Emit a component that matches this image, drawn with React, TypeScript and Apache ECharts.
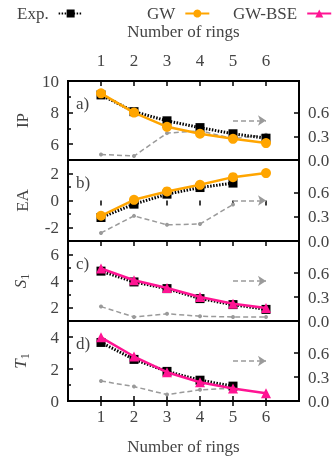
import React, { useEffect, useRef } from "react";
import * as echarts from "echarts";

const rings = [1, 2, 3, 4, 5, 6];
const xTickValues = [1, 2, 3, 4, 5, 6];

// a) IP
const ipExp = [9.12, 8.06, 7.48, 7.05, 6.66, 6.38];
const ipGW = [9.22, 8.0, 7.1, 6.66, 6.34, 6.07];
const ipErr = [0.07, 0.05, 0.34, 0.37, 0.27, 0.32];
// b) EA
const eaExp = [-1.26, -0.27, 0.47, 0.96, 1.29];
const eaGW = [-1.13, 0.05, 0.67, 1.16, 1.73, 2.03];
const eaErr = [0.1, 0.31, 0.2, 0.21, 0.45];
// c) S1
const s1Exp = [4.74, 3.93, 3.43, 2.68, 2.23, 1.87];
const s1BSE = [4.94, 4.06, 3.48, 2.8, 2.3, 1.97];
const s1Err = [0.18, 0.05, 0.09, 0.06, 0.05, 0.05];
// d) T1
const t1Exp = [3.66, 2.6, 1.85, 1.3, 0.93];
const t1BSE = [3.98, 2.78, 1.8, 1.17, 0.78, 0.49];
const t1Err = [0.25, 0.18, 0.08, 0.14, 0.16];

const arrowLevel = 0.5;
const rightTicks = [0, 0.3, 0.6];

const panelLabels = ["a)", "b)", "c)", "d)"];
const leftRanges = [
  [5, 10],
  [-3, 3],
  [1, 7],
  [0, 5],
];
const leftMajor = [
  [6, 8, 10],
  [-2, 0, 2],
  [2, 4, 6],
  [0, 2, 4],
];
const leftMinor = [
  [7, 9],
  [-1, 1],
  [3, 5],
  [1, 3],
];

const FONT = "'Liberation Serif', 'Times New Roman', serif";
const FS = 17;
const TXT = "#444";
const GW_COLOR = "#FFA500";
const BSE_COLOR = "#FF1493";
const ERR_COLOR = "#9a9a9a";

const pairs = (vals: number[]) => vals.map((v, i) => [rings[i], v]);

export default function App() {
  const ref = useRef<HTMLDivElement>(null);
  useEffect(() => {
    if (!ref.current) return;
    const chart = echarts.init(ref.current, null, { renderer: "svg" });

    const tops = [81, 160, 241, 321];
    const heights = [79, 81, 80, 80];
    const gridLeft = 68;
    const gridWidth = 231;

    const grids = tops.map((t, i) => ({
      left: gridLeft,
      width: gridWidth,
      top: t,
      height: heights[i],
      show: true,
      borderColor: "#000",
      borderWidth: 2,
      backgroundColor: "transparent",
    }));

    const textStyle = { fontFamily: FONT, fontSize: FS, color: TXT };

    const xAxes: any[] = [];
    tops.forEach((_, i) => {
      xAxes.push({
        gridIndex: i,
        type: "value",
        position: "bottom",
        min: 0,
        max: 7,
        interval: 1,
        axisLine: { show: false },
        splitLine: { show: false },
        axisTick: {
          show: i === 3,
          inside: true,
          length: 5,
          customValues: xTickValues,
          lineStyle: { color: "#000", width: 1.5 },
        },
        axisLabel: {
          show: i === 3,
          customValues: xTickValues,
          margin: 7,
          ...textStyle,
        },
        name: i === 3 ? "Number of rings" : "",
        nameLocation: "middle",
        nameGap: 37,
        nameTextStyle: textStyle,
      });
      xAxes.push({
        gridIndex: i,
        type: "value",
        position: "top",
        min: 0,
        max: 7,
        interval: 1,
        axisLine: { show: false },
        splitLine: { show: false },
        axisTick: {
          show: true,
          inside: true,
          length: 5,
          customValues: xTickValues,
          lineStyle: { color: "#000", width: 1.5 },
        },
        axisLabel: {
          show: i === 0,
          customValues: xTickValues,
          margin: 12,
          ...textStyle,
        },
        name: i === 0 ? "Number of rings" : "",
        nameLocation: "middle",
        nameGap: 41,
        nameTextStyle: textStyle,
      });
    });

    const yNames = ["IP", "EA", "{i|S}{s|1}", "{i|T}{s|1}"];
    const rich = {
      i: { fontFamily: FONT, fontSize: FS, fontStyle: "italic", color: TXT, lineHeight: 21 },
      s: { fontFamily: FONT, fontSize: 12, color: TXT, verticalAlign: "bottom", lineHeight: 21 },
    };

    const yAxes: any[] = [];
    tops.forEach((_, i) => {
      yAxes.push({
        gridIndex: i,
        type: "value",
        position: "left",
        min: leftRanges[i][0],
        max: leftRanges[i][1],
        axisLine: { show: false },
        splitLine: { show: false },
        axisTick: {
          show: true,
          inside: true,
          length: 5,
          customValues: leftMajor[i],
          lineStyle: { color: "#000", width: 1.5 },
        },
        axisLabel: { customValues: leftMajor[i], margin: 9, ...textStyle },
        name: yNames[i],
        nameLocation: "middle",
        nameGap: 37,
        nameRotate: 90,
        nameTextStyle: { ...textStyle, rich },
      });
      yAxes.push({
        gridIndex: i,
        type: "value",
        position: "left",
        min: leftRanges[i][0],
        max: leftRanges[i][1],
        axisLine: { show: false },
        splitLine: { show: false },
        axisTick: {
          show: true,
          inside: true,
          length: 3,
          customValues: leftMinor[i],
          lineStyle: { color: "#000", width: 1.5 },
        },
        axisLabel: { show: false },
      });
      yAxes.push({
        gridIndex: i,
        type: "value",
        position: "right",
        min: 0,
        max: 1,
        axisLine: { show: false },
        splitLine: { show: false },
        axisTick: {
          show: true,
          inside: true,
          length: 5,
          customValues: rightTicks,
          lineStyle: { color: "#000", width: 1.5 },
        },
        axisLabel: {
          customValues: rightTicks,
          margin: 9,
          formatter: (v: number) => v.toFixed(1),
          ...textStyle,
        },
      });
    });

    const panelData = [
      { exp: ipExp, th: ipGW, err: ipErr, name: "GW", color: GW_COLOR, symbol: "circle" },
      { exp: eaExp, th: eaGW, err: eaErr, name: "GW", color: GW_COLOR, symbol: "circle" },
      { exp: s1Exp, th: s1BSE, err: s1Err, name: "GW-BSE", color: BSE_COLOR, symbol: "triangle" },
      { exp: t1Exp, th: t1BSE, err: t1Err, name: "GW-BSE", color: BSE_COLOR, symbol: "triangle" },
    ];

    const series: any[] = [];
    panelData.forEach((p, i) => {
      series.push({
        name: "err",
        type: "line",
        xAxisIndex: 2 * i,
        yAxisIndex: 3 * i + 2,
        data: pairs(p.err),
        symbol: "circle",
        symbolSize: 4,
        itemStyle: { color: ERR_COLOR },
        lineStyle: { color: ERR_COLOR, width: 1.5, type: [5, 3] },
        z: 2,
        markLine: {
          silent: true,
          symbol: ["none", "arrow"],
          symbolSize: 8,
          label: { show: false },
          lineStyle: { color: ERR_COLOR, width: 1.5, type: [5, 3] },
          data: [[{ coord: [5, arrowLevel] }, { coord: [6, arrowLevel] }]],
        },
      });
      series.push({
        name: "Exp.",
        type: "line",
        xAxisIndex: 2 * i,
        yAxisIndex: 3 * i,
        data: pairs(p.exp),
        symbol: "rect",
        symbolSize: 9,
        itemStyle: { color: "#000" },
        lineStyle: { color: "#000", width: 3, type: [1.5, 1.5] },
        z: 3,
      });
      series.push({
        name: p.name,
        type: "line",
        xAxisIndex: 2 * i,
        yAxisIndex: 3 * i,
        data: pairs(p.th),
        symbol: p.symbol,
        symbolSize: 10,
        itemStyle: { color: p.color },
        lineStyle: { color: p.color, width: 2.5 },
        z: 4,
      });
    });

    const legendBase = {
      top: 0,
      orient: "horizontal",
      align: "right",
      itemWidth: 24,
      itemHeight: 10,
      selectedMode: false,
      textStyle: { ...textStyle, padding: [0, 5, 0, 0] },
    };

    chart.setOption({
      animation: false,
      grid: grids,
      xAxis: xAxes,
      yAxis: yAxes,
      legend: [
        { ...legendBase, left: 12, data: ["Exp."] },
        { ...legendBase, left: 142, data: ["GW"] },
        { ...legendBase, left: 228, data: ["GW-BSE"] },
      ],
      graphic: panelLabels.map((t, i) => ({
        type: "text",
        left: 76,
        top: tops[i] + 14,
        style: { text: t, fontFamily: FONT, fontSize: FS, fill: TXT },
      })),
      series,
    });
    return () => chart.dispose();
  }, []);
  return (
    <div
      ref={ref}
      style={{ position: "fixed", left: 0, top: 0, width: 334, height: 457 }}
    />
  );
}
